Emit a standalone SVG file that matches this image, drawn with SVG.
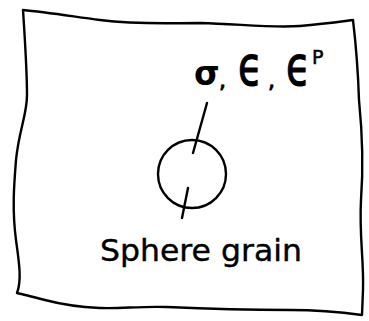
<svg xmlns="http://www.w3.org/2000/svg" width="369" height="321" viewBox="0 0 369 321">
<style>
.ln{fill:none;stroke:#000;stroke-width:2.4;stroke-linecap:round;stroke-linejoin:round}
.t{font-family:"DejaVu Sans",sans-serif;fill:#000}
.s{stroke:#000;stroke-width:0.9}
</style>
<rect width="369" height="321" fill="#fff"/>
<g id="plate">
<path class="ln" d="M23,10 C45,12 70,16 100,20 C140,25 170,23 200,23 C240,24 270,28 300,26 C325,24 345,21 353,20 C356,45 358,70 359,100 C362,130 364,160 361,200 C359,235 364,260 363,290 L362,315 C340,312 320,310 290,310 C250,310 210,309 167,307 C140,306 120,309 100,308 C80,307 60,304 45,300 C30,296 22,294 17,293 C22,280 19,262 16,240 C12,210 14,185 16,160 C19,130 27,115 27,95 C27,70 25,40 23,10 Z"/>
</g>
<g id="grain">
<circle class="ln" cx="192" cy="174" r="34"/>
<text class="t" x="100" y="261" font-size="31" textLength="202" lengthAdjust="spacingAndGlyphs" stroke="#000" stroke-width="0.4">Sphere grain</text>
</g>
<g id="label">
<text class="t" x="194" y="85" font-size="33" font-weight="bold">σ</text>
<text class="t s" x="219" y="88" font-size="22">,</text>
<text class="t s" font-size="42" transform="translate(238,85) scale(0.95,1.3)">ϵ</text>
<text class="t s" x="268" y="88" font-size="22">,</text>
<text class="t s" font-size="42" transform="translate(286,85) scale(0.95,1.3)">ϵ</text>
<text class="t" x="312" y="64" font-size="19" stroke="#000" stroke-width="0.5">P</text>
</g>
<g id="connectors">
<line class="ln" x1="207" y1="103" x2="193" y2="153"/>
<line class="ln" x1="188" y1="188" x2="182" y2="218"/>
</g>
</svg>
